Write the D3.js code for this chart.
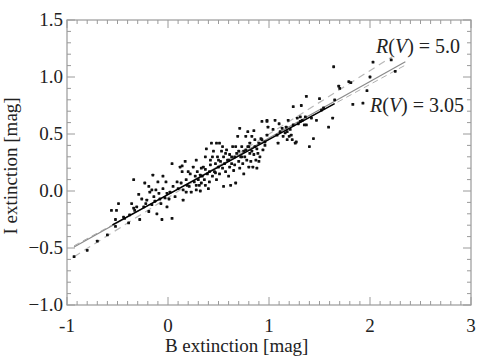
<!DOCTYPE html>
<html>
<head>
<meta charset="utf-8">
<script src="https://cdn.jsdelivr.net/npm/d3@7"></script>
<style>
  body { margin: 0; background: #fff; }
  text { font-family: "Liberation Serif", "DejaVu Serif", serif; }
</style>
</head>
<body>
<svg id="chart"></svg>
<script>
// B extinction (x) and I extinction (y) of the stars
var bExt = [-0.93,-0.80,-0.70,-0.60,-0.56,-0.51,-0.49,-0.52,-0.52,-0.44,-0.39,-0.38,-0.43,-0.36,-0.34,-0.34,-0.33,-0.31,-0.28,-0.29,
  -0.24,-0.21,-0.19,-0.18,-0.16,-0.15,-0.13,-0.12,-0.11,-0.10,-0.09,-0.08,-0.07,-0.06,-0.05,-0.05,-0.03,-0.02,-0.01,-0.01,
  0.02,0.04,0.04,0.05,0.07,0.10,0.12,0.13,0.14,0.15,0.15,0.17,0.18,0.18,0.20,0.21,0.22,0.23,0.25,0.26,
  0.27,0.28,0.29,0.30,0.31,0.32,0.32,0.33,0.35,0.36,0.37,0.37,0.38,0.39,0.40,0.41,0.42,0.42,0.43,0.44,
  0.45,0.46,0.47,0.48,0.48,0.49,0.50,0.51,0.51,0.52,0.53,0.54,0.55,0.55,0.56,0.57,0.58,0.59,0.60,0.61,
  0.61,0.62,0.63,0.64,0.65,0.66,0.66,0.67,0.68,0.69,0.70,0.71,0.71,0.72,0.73,0.74,0.75,0.75,0.76,0.77,
  0.78,0.79,0.80,0.81,0.81,0.82,0.83,0.84,0.85,0.86,0.87,0.88,0.88,0.89,0.90,0.91,0.92,0.93,0.94,0.96,
  0.98,0.98,0.99,1.04,1.06,1.08,1.09,1.10,1.11,1.13,1.14,1.16,1.17,1.18,1.18,1.19,1.20,1.21,1.22,1.23,
  1.24,1.24,1.26,1.27,1.28,1.29,1.31,1.31,1.32,1.33,1.35,1.36,1.37,1.37,1.40,1.42,1.44,1.47,1.50,1.52,
  1.54,1.59,1.63,1.64,1.65,1.69,1.70,1.79,1.81,1.83,1.93,1.97,2.00,2.03,2.21,2.25,
  -0.23,-0.19,-0.16,-0.26,-0.22,-0.14,0.01,0.09,0.19,0.28,0.34,0.37,0.41,0.44,0.47,0.50,0.54,0.57,0.60,0.63,
  0.67,0.70,0.73,0.77,0.80,0.83,0.86,0.90,0.93,0.96,0.79,0.85,0.98,0.28,0.14,0.33]
var iExt = [-0.576,-0.52,-0.44,-0.385,-0.17,-0.17,-0.11,-0.25,-0.31,-0.23,-0.28,-0.21,-0.24,-0.11,-0.15,0.10,-0.17,-0.14,-0.25,-0.03,
  -0.14,-0.08,-0.18,-0.01,-0.12,0.14,-0.09,0.01,-0.20,0.08,-0.02,-0.07,-0.11,-0.25,0.13,0.02,-0.06,0.08,-0.14,-0.02,
  -0.01,0.24,-0.24,0.04,-0.05,0.02,0.21,0.07,0.17,0.01,-0.08,0.26,0.10,-0.01,0.17,0.04,0.15,-0.01,0.21,0.08,
  0.13,0.01,0.17,0.10,0.05,0.14,0.00,0.07,0.21,0.10,0.05,0.30,0.37,0.15,0.02,0.08,0.23,0.27,0.42,0.13,
  0.35,0.17,0.24,0.42,0.10,0.30,0.21,0.42,0.15,0.26,0.35,0.20,0.04,0.30,0.24,0.17,0.36,0.27,0.13,0.21,
  0.32,0.05,0.24,0.39,0.18,0.30,0.23,0.07,0.33,0.48,0.26,0.55,0.20,0.30,0.39,0.24,0.35,0.15,0.30,0.48,
  0.27,0.39,0.21,0.33,0.42,0.26,0.35,0.21,0.32,0.45,0.27,0.20,0.37,0.33,0.42,0.30,0.46,0.61,0.36,0.43,
  0.49,0.62,0.56,0.54,0.62,0.49,0.42,0.59,0.52,0.55,0.48,0.51,0.56,0.45,0.52,0.62,0.48,0.54,0.49,0.45,
  0.74,0.58,0.42,0.43,0.64,0.59,0.65,0.61,0.75,0.62,0.58,0.65,0.58,0.83,0.39,0.64,0.46,0.62,0.81,0.71,
  0.73,0.56,0.64,1.09,0.80,0.92,0.90,0.96,0.95,0.76,0.77,0.88,1.00,1.13,1.15,1.05,
  0.07,0.04,0.01,-0.07,-0.11,-0.05,-0.07,0.08,0.05,0.05,0.13,0.19,0.17,0.30,0.16,0.27,0.39,0.33,0.27,0.30,
  0.39,0.35,0.30,0.36,0.39,0.48,0.39,0.26,0.45,0.40,0.52,0.53,0.61,0.27,0.22,0.20]

// reddening lines: [slope, intercept, xStart, xEnd]
var lineRV305 = [0.495, -0.030, -0.93, 2.35]
var lineRV50 = [0.557, -0.058, -0.93, 2.22]
var lineFit = [0.483, -0.031, -0.93, 2.35]
var fitRange = [-0.55, 1.65]

var xTicks = [-1, 0, 1, 2, 3]
var yTicks = [-1.0, -0.5, 0.0, 0.5, 1.0, 1.5]

var W = 491, H = 358
var margin = {top: 20, right: 20, bottom: 53, left: 67}
var width = W - margin.left - margin.right
var height = H - margin.top - margin.bottom

var svg = d3.select("#chart").attr("width", W).attr("height", H)
var g = svg.append("g").attr("transform", `translate(${margin.left},${margin.top})`)

var x = d3.scaleLinear().domain([-1, 3]).range([0, width])
var y = d3.scaleLinear().domain([-1.0, 1.5]).range([height, 0])

var frameColor = "#9a9a9a"
var fs = 19

// frame
g.append("rect")
 .attr("x", 0).attr("y", 0)
 .attr("width", width).attr("height", height)
 .attr("fill", "none").attr("stroke", frameColor).attr("stroke-width", 1.2)

// inward ticks on all four sides (major + minor)
var xMinor = d3.range(-1, 3.0001, 0.1)
var yMinor = d3.range(-1, 1.5001, 0.1)
function isMajor(v, step) { return Math.abs(v / step - Math.round(v / step)) < 1e-6 }

var ticks = g.append("g").attr("stroke", frameColor).attr("stroke-width", 1)
xMinor.forEach(v => {
  var len = isMajor(v, 1) ? 8 : 4
  ticks.append("line").attr("x1", x(v)).attr("x2", x(v)).attr("y1", height).attr("y2", height - len)
  ticks.append("line").attr("x1", x(v)).attr("x2", x(v)).attr("y1", 0).attr("y2", len)
})
yMinor.forEach(v => {
  var len = isMajor(v, 0.5) ? 8 : 4
  ticks.append("line").attr("y1", y(v)).attr("y2", y(v)).attr("x1", 0).attr("x2", len)
  ticks.append("line").attr("y1", y(v)).attr("y2", y(v)).attr("x1", width).attr("x2", width - len)
})

// tick labels
g.append("g").selectAll("text").data(xTicks).join("text")
 .attr("x", d => x(d)).attr("y", height + 27)
 .attr("text-anchor", "middle").attr("font-size", fs).attr("fill", "#222")
 .text(d => d)
g.append("g").selectAll("text").data(yTicks).join("text")
 .attr("x", -4).attr("y", d => y(d) + 6)
 .attr("text-anchor", "end").attr("font-size", fs).attr("fill", "#222")
 .text(d => d3.format(".1f")(d))

// axis titles
svg.append("text")
 .attr("x", margin.left + x(0.68)).attr("y", 352)
 .attr("text-anchor", "middle").attr("font-size", fs).attr("fill", "#222")
 .text("B extinction [mag]")
svg.append("text")
 .attr("transform", `translate(17,${margin.top + y(0.22)}) rotate(-90)`)
 .attr("text-anchor", "middle").attr("font-size", fs).attr("fill", "#222")
 .text("I extinction [mag]")

// lines
function seg(p, x0, x1) {
  return {x1: x(x0), y1: y(p[0] * x0 + p[1]), x2: x(x1), y2: y(p[0] * x1 + p[1])}
}
function drawLine(s, color, w, dash) {
  g.append("line").attr("x1", s.x1).attr("y1", s.y1).attr("x2", s.x2).attr("y2", s.y2)
   .attr("stroke", color).attr("stroke-width", w).attr("stroke-dasharray", dash || null)
}
drawLine(seg(lineFit, lineFit[2], lineFit[3]), "#b0b0b0", 1, "6,4")
drawLine(seg(lineRV50, lineRV50[2], lineRV50[3]), "#b8b8b8", 1.2, "7,5")
drawLine(seg(lineRV305, lineRV305[2], lineRV305[3]), "#8a8a8a", 1.2)

// data points
g.append("g").selectAll("rect").data(bExt.map((b, i) => [b, iExt[i]])).join("rect")
 .attr("x", d => x(d[0]) - 1.4).attr("y", d => y(d[1]) - 1.4)
 .attr("width", 2.8).attr("height", 2.8).attr("rx", 0.6).attr("fill", "#111")

// black fit segment over the data
drawLine(seg(lineFit, fitRange[0], fitRange[1]), "#000", 1.5)

// labels
function rvLabel(xv, yv, val) {
  var t = g.append("text").attr("x", x(xv)).attr("y", y(yv))
   .attr("font-size", fs + 1).attr("fill", "#222")
  t.append("tspan").attr("font-style", "italic").text("R")
  t.append("tspan").text("(")
  t.append("tspan").attr("font-style", "italic").text("V")
  t.append("tspan").text(") = " + val)
}
rvLabel(2.06, 1.21, "5.0")
rvLabel(2.0, 0.69, "3.05")
</script>
</body>
</html>
